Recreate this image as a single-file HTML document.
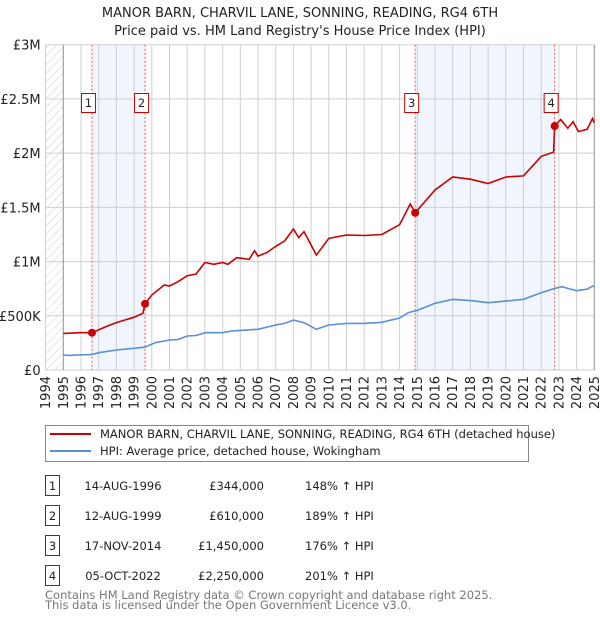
<!DOCTYPE html>
<html><head><meta charset="utf-8"><style>
body{margin:0;background:#fff;font-family:"Liberation Sans","DejaVu Sans",sans-serif;}
svg text{font-family:"DejaVu Sans","Liberation Sans",sans-serif;}
</style></head><body>
<svg id="c" width="600" height="620" xmlns="http://www.w3.org/2000/svg">
<defs><pattern id="hatch" width="6" height="6" patternUnits="userSpaceOnUse" patternTransform="rotate(45)"><line x1="0" y1="0" x2="0" y2="6" stroke="#ccc" stroke-width="1"/></pattern></defs>
<text x="300" y="17" text-anchor="middle" font-size="13" fill="#222">MANOR BARN, CHARVIL LANE, SONNING, READING, RG4 6TH</text>
<text x="300" y="35" text-anchor="middle" font-size="13" fill="#222">Price paid vs. HM Land Registry's House Price Index (HPI)</text>
<g id="plot"></g>
<rect x="45.5" y="425.5" width="483" height="36" fill="none" stroke="#888"/>
<line x1="50" y1="434" x2="91" y2="434" stroke="#cc0000" stroke-width="2"/>
<text x="100" y="438" font-size="11.5" fill="#222">MANOR BARN, CHARVIL LANE, SONNING, READING, RG4 6TH (detached house)</text>
<line x1="50" y1="451" x2="91" y2="451" stroke="#5b8fd6" stroke-width="2"/>
<text x="100" y="455" font-size="11.5" fill="#222">HPI: Average price, detached house, Wokingham</text>
<g id="table" font-size="11.5" fill="#222"></g>
<text x="45" y="599" font-size="11.5" fill="#777">Contains HM Land Registry data © Crown copyright and database right 2025.</text>
<text x="45" y="609" font-size="11.5" fill="#777">This data is licensed under the Open Government Licence v3.0.</text>
</svg>
<script>
const hpiYears=[1995,1995.3,1996,1996.6,1997,1998,1999,1999.6,2000.2,2001,2001.5,2002,2002.5,2003,2004,2004.5,2005,2006,2007,2007.5,2008,2008.6,2009.3,2010,2011,2012,2013,2014,2014.5,2015,2016,2017,2018,2019,2020,2021,2022,2022.8,2023.2,2023.6,2024,2024.6,2024.9,2025];
const hpiValues=[138,135,140,142,160,184,200,210,252,277,282,314,318,344,344,360,365,375,415,430,460,436,375,415,430,430,440,480,529,550,615,652,640,621,635,652,713,754,768,748,731,745,775,765];
const ppYears=[1995,1996,1996.62,1997.5,1998,1999,1999.5,1999.62,2000,2000.7,2001,2001.5,2002,2002.5,2003,2003.5,2004,2004.3,2004.8,2005.5,2005.8,2006,2006.5,2007,2007.5,2008,2008.3,2008.6,2009.3,2010,2011,2012,2013,2014,2014.6,2014.88,2016,2017,2018,2019,2020,2021,2022,2022.7,2022.76,2023.1,2023.5,2023.8,2024.1,2024.6,2024.9,2025];
const ppValues=[338,344,344,406,437,487,523,610,692,784,775,815,870,885,991,975,991,975,1037,1020,1100,1050,1083,1140,1190,1300,1220,1276,1060,1215,1245,1240,1250,1340,1530,1450,1660,1780,1760,1720,1780,1790,1970,2010,2250,2310,2230,2290,2200,2220,2320,2280];
const saleYears=[1996.62,1999.62,2014.88,2022.76];
const saleValues=[344,610,1450,2250];
const saleDates=["14-AUG-1996","12-AUG-1999","17-NOV-2014","05-OCT-2022"];
const salePrices=["£344,000","£610,000","£1,450,000","£2,250,000"];
const saleHpi=["148% ↑ HPI","189% ↑ HPI","176% ↑ HPI","201% ↑ HPI"];
const yTicks=[0,500,1000,1500,2000,2500,3000];
const yTickLabels=["£0","£500K","£1M","£1.5M","£2M","£2.5M","£3M"];
const NS="http://www.w3.org/2000/svg";
const X=y=>63.3+(y-1995)*17.7;
const Y=v=>370-v*0.10843;
const plot=document.getElementById('plot');
function mk(tag,attrs,parent){const e=document.createElementNS(NS,tag);for(const k in attrs)e.setAttribute(k,attrs[k]);(parent||plot).appendChild(e);return e;}
let e;
e=mk('rect',{x:X(1994),y:Y(3000),width:X(1995)-X(1994),height:Y(0)-Y(3000),fill:'url(#hatch)'});


for(let i=0;i<2;i++){e=mk('rect',{x:X(saleYears[i*2]),y:Y(3000),width:X(saleYears[i*2+1])-X(saleYears[i*2]),height:Y(0)-Y(3000),fill:'#eef3fc',opacity:0.8});

}
for(let yr=1994;yr<=2025;yr++){e=mk('line',{x1:X(yr),x2:X(yr),y1:Y(3000),y2:Y(0),stroke:'#cfcfcf','stroke-width':1});


e=mk('text',{x:0,y:0,transform:`translate(${X(yr)+4.5},${Y(0)+6}) rotate(-90)`,'text-anchor':'end','font-size':13,fill:'#222'});
e.textContent=yr;

}
yTicks.forEach((v,i)=>{e=mk('line',{x1:X(1994),x2:X(2025),y1:Y(v),y2:Y(v),stroke:'#cfcfcf','stroke-width':1});


e=mk('text',{x:X(1994)-5,y:Y(v)+5,'text-anchor':'end','font-size':13,fill:'#222'});
e.textContent=yTickLabels[i];

});
e=mk('line',{x1:X(1995),x2:X(1995),y1:Y(3000),y2:Y(0),stroke:'#999'});


e=mk('line',{x1:X(2025),x2:X(2025),y1:Y(3000),y2:Y(0),stroke:'#999'});


saleYears.forEach((s,i)=>{e=mk('line',{x1:X(s),x2:X(s),y1:Y(3000),y2:Y(0),stroke:'#e55','stroke-width':1,'stroke-dasharray':'2,2'});


e=mk('rect',{x:X(s)-10.5,y:93.5,width:14,height:19,fill:'#fff',stroke:'#cc0000'});


e=mk('text',{x:X(s)-3.5,y:107,'text-anchor':'middle','font-size':11.5,fill:'#222'});
e.textContent=i+1;

});
e=mk('path',{d:hpiYears.map((y,i)=>(i?'L':'M')+X(y).toFixed(1)+','+Y(hpiValues[i]).toFixed(1)).join(''),fill:'none',stroke:'#5b8fd6','stroke-width':1.6});


e=mk('path',{d:ppYears.map((y,i)=>(i?'L':'M')+X(y).toFixed(1)+','+Y(ppValues[i]).toFixed(1)).join(''),fill:'none',stroke:'#cc0000','stroke-width':1.6});


saleYears.forEach((s,i)=>{e=mk('circle',{cx:X(s),cy:Y(saleValues[i]),r:4,fill:'#cc0000'});

});
const tb=document.getElementById('table');
saleYears.forEach((s,i)=>{const ry=475.5+i*30;
e=mk('rect',{x:45.5,y:ry,width:14,height:20,fill:'none',stroke:'#cc0000'},tb);


e=mk('text',{x:52.5,y:ry+14.5,'text-anchor':'middle'},tb);e.textContent=i+1;


e=mk('text',{x:123,y:ry+14.5,'text-anchor':'middle'},tb);e.textContent=saleDates[i];


e=mk('text',{x:264,y:ry+14.5,'text-anchor':'end'},tb);e.textContent=salePrices[i];


e=mk('text',{x:305,y:ry+14.5},tb);e.textContent=saleHpi[i];

});
</script>
</body></html>
